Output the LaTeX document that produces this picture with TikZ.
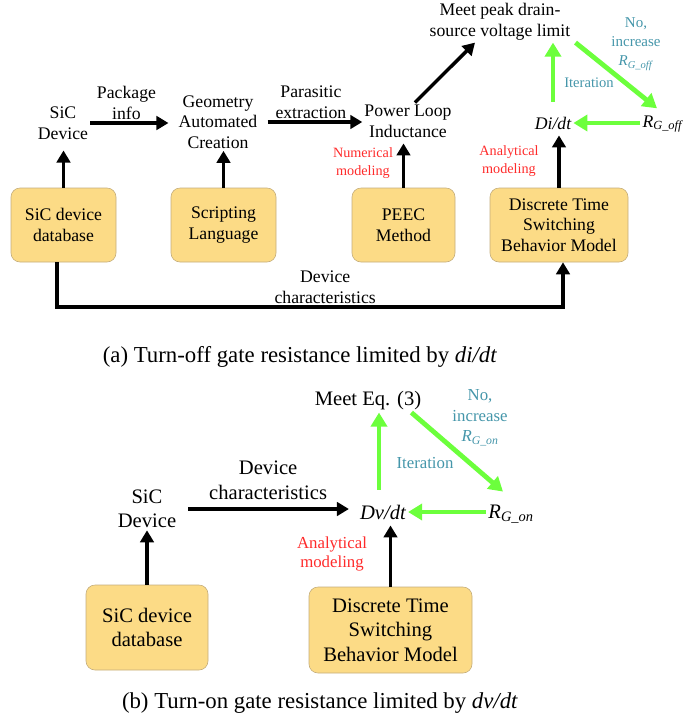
\documentclass[tikz,border=0pt]{standalone}
\usepackage{fontspec}
\setmainfont{Liberation Serif}
\usepackage{tikz}
\usetikzlibrary{arrows.meta,calc,positioning}
\definecolor{BoxFill}{HTML}{FCDB86}
\definecolor{BoxLine}{HTML}{C4AD7C}
\definecolor{IterGreen}{HTML}{6CFF3C}
\definecolor{LblRed}{HTML}{FF2B2B}
\definecolor{LblTeal}{HTML}{4596AA}
\newcommand{\fsA}{\fontsize{17.7}{20.7}\selectfont}
\newcommand{\fsB}{\fontsize{20.6}{24.4}\selectfont}
\newcommand{\fsCap}{\fontsize{22.8}{26}\selectfont}
\newcommand{\Rsub}[1]{\textit{R}\textsubscript{\textit{#1}}}

\begin{document}
\begin{tikzpicture}[x=1pt,y=-1pt,>={Triangle[length=12pt,width=13.5pt]},
  dbbox/.style={draw=BoxLine,line width=0.6pt,fill=BoxFill,rounded corners=9pt,align=center,inner sep=2pt},
  txt/.style={align=center,inner sep=2pt},
  blk/.style={->,line width=3.4pt},
  grn/.style={->,line width=4.8pt,IterGreen,>={Triangle[length=14pt,width=16pt]}},
  redlbl/.style={align=center,inner sep=1pt,text=LblRed},
  teallbl/.style={align=center,inner sep=1pt,text=LblTeal}]
  \useasboundingbox (0,0) rectangle (684,721);
  % (a) turn-off
  \node[txt,font=\fsA] (sicA) at (63,123){SiC\\Device};
  \node[txt,font=\fsA] (geo) at (218,122){Geometry\\Automated\\Creation};
  \node[txt,font=\fsA] (pl) at (408,121){Power Loop\\Inductance};
  \node[txt,font=\fsA] (meet) at (500,22){Meet peak drain-\\source voltage limit};
  \node[txt,font=\fsA\itshape] (didt) at (553,123){Di/dt};
  \node[txt,font=\fsA] (rgoff) at (663,124){\Rsub{G\_off}};
  \node[dbbox,font=\fsA,minimum width=105pt,minimum height=74pt] (dbA) at (63.5,225){SiC device\\database};
  \node[dbbox,font=\fsA,minimum width=105pt,minimum height=74pt] (scrA) at (223.5,225){Scripting\\Language};
  \node[dbbox,font=\fsA,minimum width=103pt,minimum height=74pt] (peec) at (403.5,225){PEEC\\Method};
  \node[dbbox,font=\fsA,minimum width=138pt,minimum height=74pt] (dtsA) at (559,225){Discrete Time\\Switching\\Behavior Model};
  \node[redlbl,font=\fontsize{14.2}{18}\selectfont] (numA) at (363,163){Numerical\\modeling};
  \node[redlbl,font=\fontsize{14.2}{18}\selectfont] (anaA) at (509,161){Analytical\\modeling};
  \node[teallbl,font=\fontsize{14.6}{18}\selectfont] (iterA) at (589,83){Iteration};
  \node[teallbl,font=\fontsize{15}{19}\selectfont] (noA) at (636,44){No,\\increase\\\Rsub{G\_off}};
  \draw[blk,shorten >=8pt](sicA.east)--node[above,pos=0.42,txt,font=\fsA]{Package\\info}(sicA.east -| geo.west);
  \draw[blk,shorten <=8pt](geo.east)--node[above,txt,font=\fsA]{Parasitic\\extraction}(geo.east -| pl.west);
  \draw[blk]([xshift=7pt]pl.north)--([xshift=-25pt]meet.south);
  \draw[blk,shorten >=9pt](dbA.north)--(dbA.north |- sicA.south);
  \draw[blk](scrA.north)--(scrA.north |- geo.south);
  \draw[blk,shorten >=4pt](peec.north)--(peec.north |- pl.south);
  \draw[blk,shorten >=4pt](dtsA.north)--(dtsA.north |- didt.south);
  \draw[grn](rgoff.west |- didt.east)--(didt.east);
  \draw[grn]([yshift=13pt]didt.north)--(didt.north |- meet.south);
  \draw[grn]([xshift=3pt]meet.south east)--([xshift=-6pt,yshift=5pt]rgoff.north);
  \coordinate (la) at (57,307);
  \coordinate (lb) at (563,307);
  \draw[blk](dbA.south -| la)--(la)--node[above,pos=0.53,txt,font=\fsA]{Device\\characteristics}(lb)--(dtsA.south -| lb);
  \node[font=\fsCap,anchor=base] (capA) at (300,362){(a) Turn-off gate resistance limited by \textit{di/dt}};
  % (b) turn-on
  \node[txt,font=\fsB] (eq) at (368,401){Meet Eq. (3)};
  \node[txt,font=\fsB] (sicB) at (147,509){SiC\\Device};
  \node[txt,font=\fsB\itshape] (dvdt) at (383,512){Dv/dt};
  \node[txt,font=\fsB] (rgon) at (511,514){\Rsub{G\_on}};
  \node[dbbox,font=\fsB,minimum width=122pt,minimum height=85pt] (dbB) at (147,627.5){SiC device\\database};
  \node[dbbox,font=\fsB,minimum width=163pt,minimum height=86pt] (dtsB) at (390.5,630){Discrete Time\\Switching\\Behavior Model};
  \node[redlbl,font=\fontsize{16.8}{19.5}\selectfont] (anaB) at (332,554){Analytical\\modeling};
  \node[teallbl,font=\fontsize{16.8}{20}\selectfont] (iterB) at (425,463){Iteration};
  \node[teallbl,font=\fontsize{16.8}{20.5}\selectfont] (noB) at (480,418){No,\\increase\\\Rsub{G\_on}};
  \draw[blk,shorten <=10pt,shorten >=9pt](sicB.east)--node[above=6pt,txt,font=\fsB]{Device\\characteristics}(sicB.east -| dvdt.west);
  \draw[blk](dbB.north)--(dbB.north |- sicB.south);
  \draw[blk,shorten >=4pt](dtsB.north)--(dtsB.north |- dvdt.south);
  \coordinate (upB) at ([xshift=-4pt]dvdt.north);
  \draw[grn]([yshift=13pt]upB)--(upB |- eq.south);
  \draw[grn]([xshift=-12pt]eq.south east)--([xshift=-8pt,yshift=11pt]rgon.north);
  \draw[grn](rgon.west |- dvdt.east)--(dvdt.east);
  \node[font=\fsCap,anchor=base] (capB) at (320,708){(b) Turn-on gate resistance limited by \textit{dv/dt}};
\end{tikzpicture}
\end{document}
